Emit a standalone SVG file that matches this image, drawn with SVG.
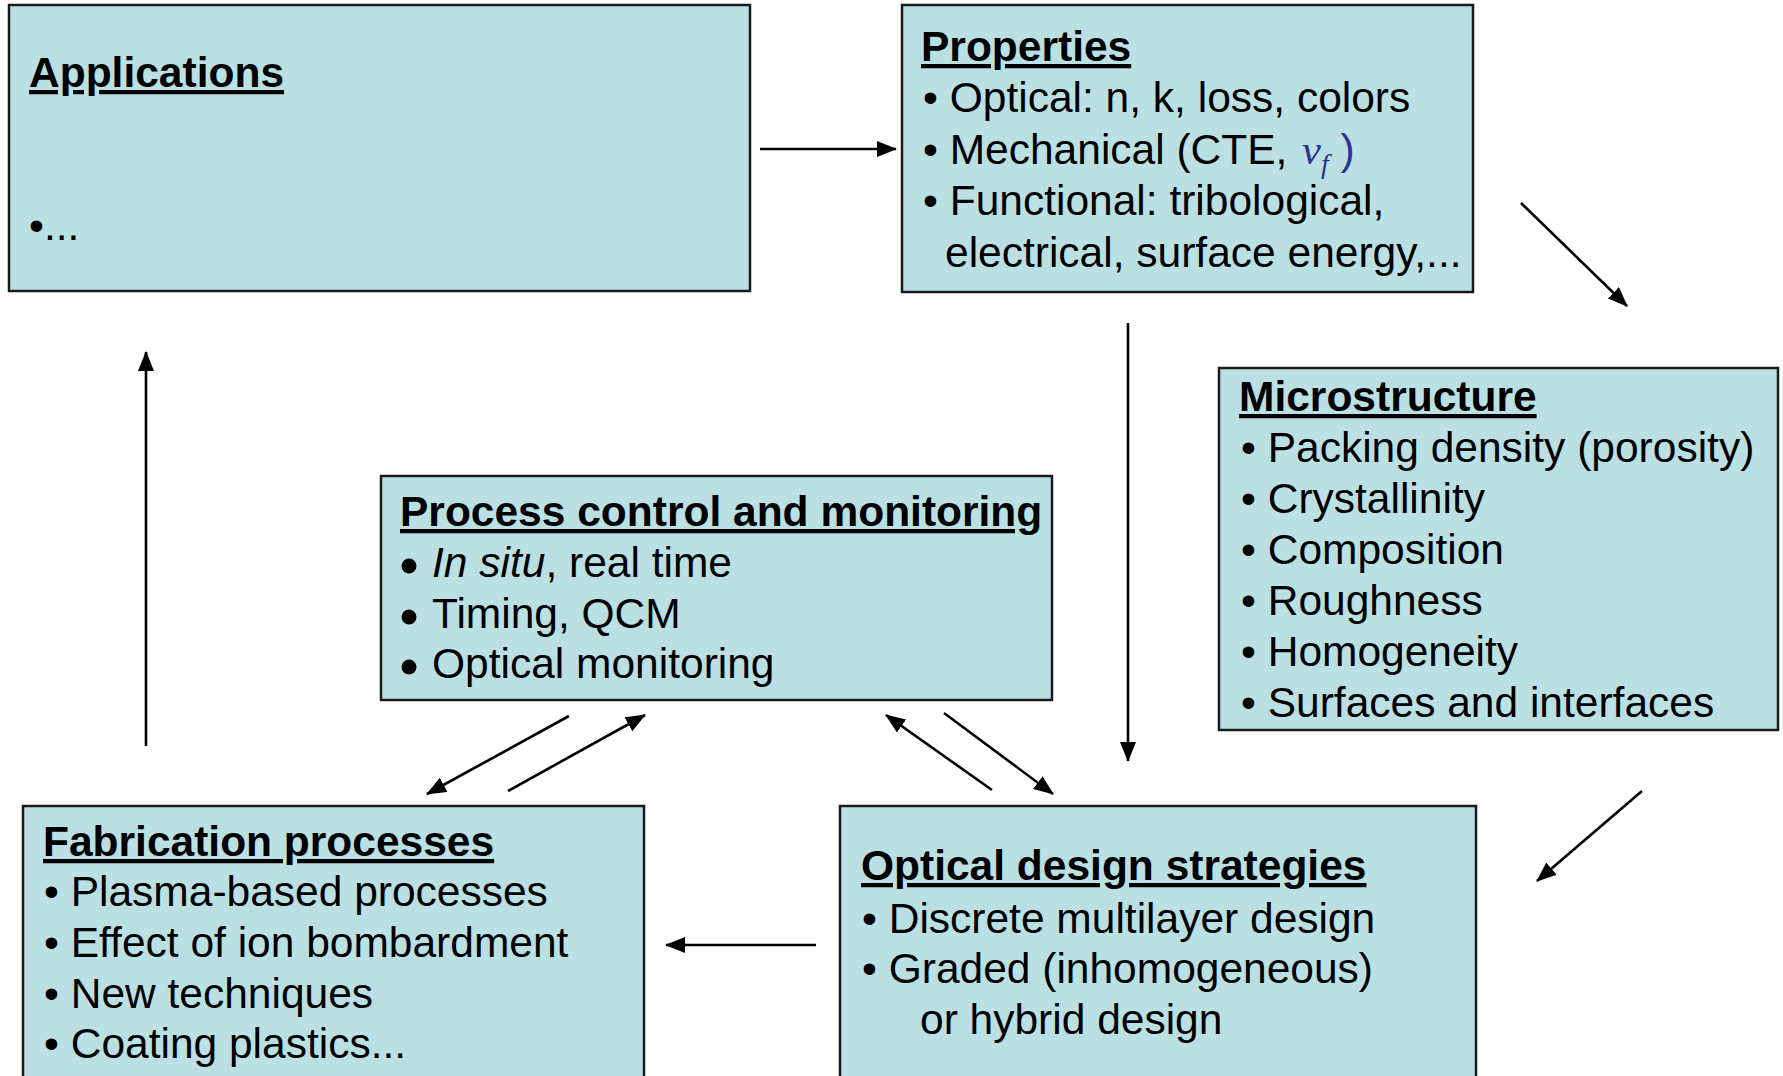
<svg xmlns="http://www.w3.org/2000/svg" width="1783" height="1076" viewBox="0 0 1783 1076">
  <style>
    .box { fill: #BBE0E3; stroke: #1a1a1a; stroke-width: 2.5; }
    text { font-family: "Liberation Sans", Arial, sans-serif; font-size: 42.5px; fill: #000; }
    .title { font-weight: bold; text-decoration: underline; }
    .dot { fill: #000; }
    .link { stroke: #000; stroke-width: 2.6; fill: none; marker-end: url(#head); }
  </style>
  <defs>
    <marker id="head" markerUnits="userSpaceOnUse" markerWidth="20" markerHeight="16" refX="19" refY="8" orient="auto">
      <path d="M0,0 L20,8 L0,16 z" fill="#000"/>
    </marker>
  </defs>
  <rect width="1783" height="1076" fill="#fff"/>

  <g id="applications">
    <rect class="box" x="9" y="5" width="741" height="286"/>
    <text class="title" x="29" y="87">Applications</text>
    <text x="29" y="240">•...</text>
  </g>

  <g id="properties">
    <rect class="box" x="902" y="5" width="571" height="287"/>
    <text class="title" x="921" y="61">Properties</text>
    <text x="923" y="112">• Optical: n, k, loss, colors</text>
    <text x="923" y="164">• Mechanical (CTE, <tspan x="1302" fill="#2E3192" font-family="Liberation Serif, serif" font-style="italic">ν</tspan><tspan font-size="28" dy="9" fill="#2E3192" font-family="Liberation Serif, serif" font-style="italic">f</tspan><tspan dy="-9" fill="#2E3192"> )</tspan></text>
    <text x="923" y="215">• Functional: tribological,</text>
    <text x="945" y="267">electrical, surface energy,...</text>
  </g>

  <g id="microstructure">
    <rect class="box" x="1219" y="368" width="559" height="362"/>
    <text class="title" x="1239" y="411">Microstructure</text>
    <text x="1241" y="462">• Packing density (porosity)</text>
    <text x="1241" y="513">• Crystallinity</text>
    <text x="1241" y="564">• Composition</text>
    <text x="1241" y="615">• Roughness</text>
    <text x="1241" y="666">• Homogeneity</text>
    <text x="1241" y="717">• Surfaces and interfaces</text>
  </g>

  <g id="process-control">
    <rect class="box" x="381" y="476" width="671" height="224"/>
    <text class="title" x="400" y="526">Process control and monitoring</text>
    <!-- round list markers for this box -->
    <circle class="dot" cx="409" cy="566" r="7.5"/>
    <circle class="dot" cx="409" cy="617" r="7.5"/>
    <circle class="dot" cx="409" cy="667" r="7.5"/>
    <text x="432" y="577"><tspan font-style="italic">In situ</tspan>, real time</text>
    <text x="432" y="628">Timing, QCM</text>
    <text x="432" y="678">Optical monitoring</text>
  </g>

  <g id="fabrication">
    <rect class="box" x="23" y="806" width="621" height="290"/>
    <text class="title" x="43" y="856">Fabrication processes</text>
    <text x="44" y="906">• Plasma-based processes</text>
    <text x="44" y="957">• Effect of ion bombardment</text>
    <text x="44" y="1008">• New techniques</text>
    <text x="44" y="1058">• Coating plastics...</text>
  </g>

  <g id="optical-design">
    <rect class="box" x="840" y="806" width="636" height="290"/>
    <text class="title" x="861" y="880">Optical design strategies</text>
    <text x="862" y="933">• Discrete multilayer design</text>
    <text x="862" y="983">• Graded (inhomogeneous)</text>
    <text x="920" y="1034">or hybrid design</text>
  </g>

  <g id="connectors">
    <line class="link" x1="760" y1="149" x2="896" y2="149"/>
    <line class="link" x1="1521" y1="203" x2="1627" y2="306"/>
    <line class="link" x1="1642" y1="791" x2="1537" y2="881"/>
    <line class="link" x1="1128" y1="323" x2="1128" y2="761"/>
    <line class="link" x1="816" y1="945" x2="666" y2="945"/>
    <line class="link" x1="146" y1="746" x2="146" y2="352"/>
    <line class="link" x1="569" y1="716" x2="427" y2="794"/>
    <line class="link" x1="508" y1="791" x2="645" y2="715"/>
    <line class="link" x1="992" y1="790" x2="886" y2="715"/>
    <line class="link" x1="944" y1="713" x2="1053" y2="794"/>
  </g>
</svg>
